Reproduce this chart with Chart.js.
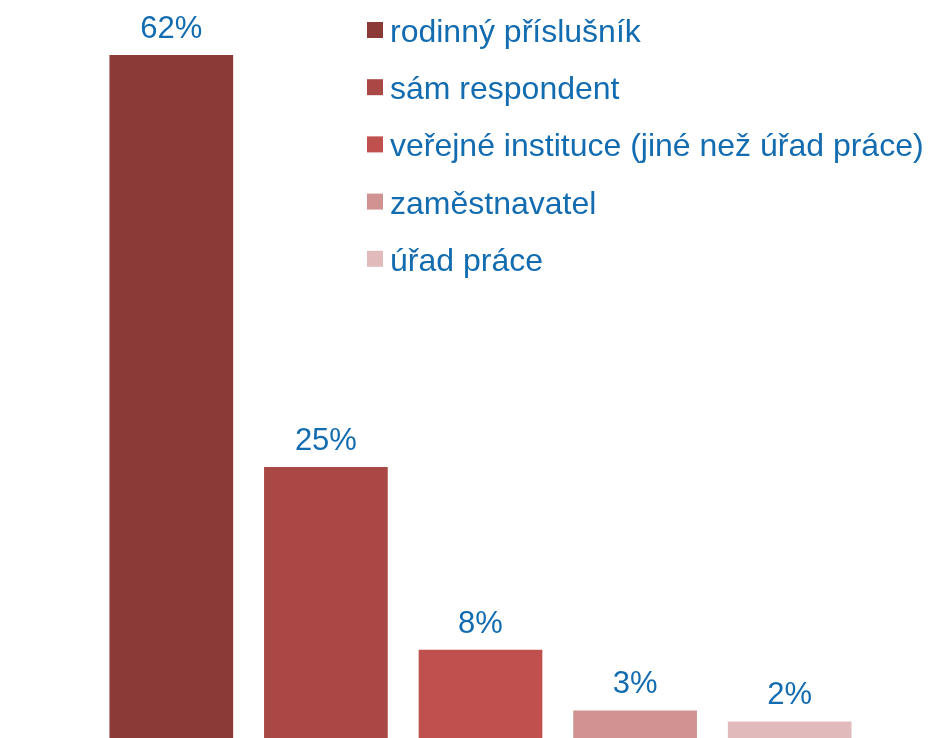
<!DOCTYPE html>
<html>
<head>
<meta charset="utf-8">
<script src="https://cdn.jsdelivr.net/npm/chart.js@4/dist/chart.umd.min.js"></script>
<style>
html,body{margin:0;padding:0;background:#fff;overflow:hidden;width:930px;height:738px;}
</style>
</head>
<body>
<canvas id="c" width="930" height="738"></canvas>
<script>
const categories = ["rodinný příslušník", "sám respondent", "veřejné instituce (jiné než úřad práce)", "zaměstnavatel", "úřad práce"];
const values = [62, 24.6, 8, 2.5, 1.5];
const valueLabels = ["62%", "25%", "8%", "3%", "2%"];
const colors = ["#8c3a38", "#aa4845", "#c0504d", "#d19392", "#e1bbbb"];
const textColor = "#136cb0";

const labelPlugin = {
  id: 'valueLabels',
  afterDatasetsDraw(chart) {
    const ctx = chart.ctx;
    const meta = chart.getDatasetMeta(0);
    ctx.save();
    ctx.fillStyle = textColor;
    ctx.font = '31px "Liberation Sans", Arial, sans-serif';
    ctx.textAlign = 'center';
    ctx.textBaseline = 'alphabetic';
    meta.data.forEach((bar, i) => {
      ctx.fillText(valueLabels[i], bar.x, bar.y - 17);
    });
    ctx.restore();
  }
};

const legendPlugin = {
  id: 'customLegend',
  afterDraw(chart) {
    const ctx = chart.ctx;
    ctx.save();
    ctx.font = '32px "Liberation Sans", Arial, sans-serif';
    ctx.textAlign = 'left';
    ctx.textBaseline = 'alphabetic';
    categories.forEach((name, i) => {
      const cy = 30 + i * 57.2;
      ctx.fillStyle = colors[i];
      ctx.fillRect(367, cy - 8, 16, 16);
      ctx.fillStyle = textColor;
      ctx.fillText(name, 390, cy + 12);
    });
    ctx.restore();
  }
};

new Chart(document.getElementById('c'), {
  type: 'bar',
  data: {
    labels: categories,
    datasets: [{
      data: values,
      backgroundColor: colors,
      borderWidth: 0,
      categoryPercentage: 0.8,
      barPercentage: 1.0
    }]
  },
  options: {
    responsive: false,
    animation: false,
    layout: { padding: { left: 94, right: 63, top: 55, bottom: 0 } },
    plugins: { legend: { display: false }, tooltip: { enabled: false } },
    scales: {
      x: { display: false },
      y: { display: false, min: 0, max: 62 }
    }
  },
  plugins: [labelPlugin, legendPlugin]
});
</script>
</body>
</html>
